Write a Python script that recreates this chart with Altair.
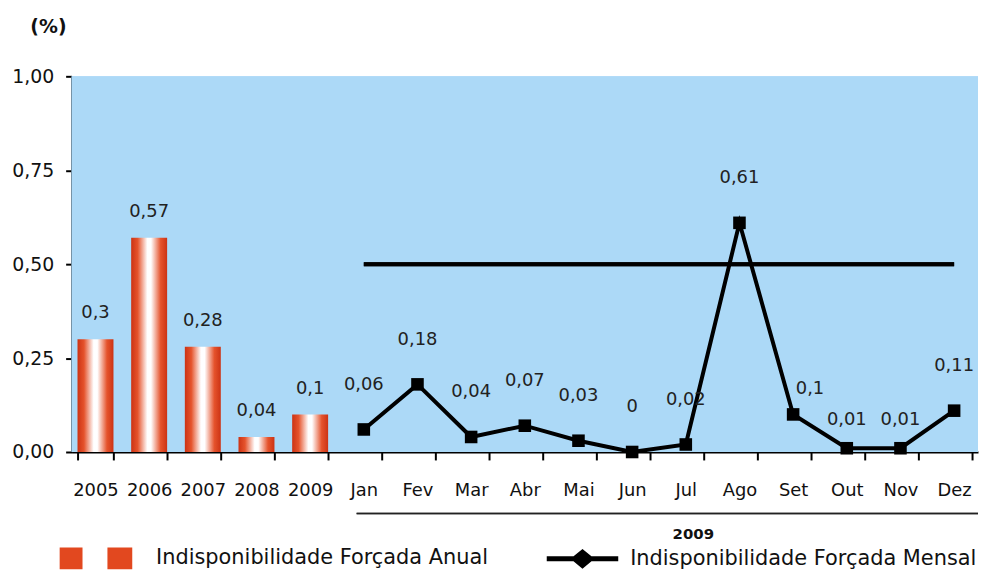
import altair as alt
import pandas as pd

# ---- data ----
anos = ["2005", "2006", "2007", "2008", "2009"]
anual = [0.3, 0.57, 0.28, 0.04, 0.1]
meses = ["Jan", "Fev", "Mar", "Abr", "Mai", "Jun", "Jul", "Ago", "Set", "Out", "Nov", "Dez"]
mensal = [0.06, 0.18, 0.04, 0.07, 0.03, 0, 0.02, 0.61, 0.1, 0.01, 0.01, 0.11]
meta = 0.5
y_ticks = [0, 0.25, 0.5, 0.75, 1.0]
series = ["Indisponibilidade Forçada Anual", "Indisponibilidade Forçada Mensal"]
grupo = "2009"
rotulos_baixos = ["Out", "Nov"]
rotulo_lado = ["Set"]

cats = anos + meses
df_bar = pd.DataFrame({"cat": anos, "v": anual})
df_line = pd.DataFrame({"cat": meses, "v": mensal})
df_leg = pd.DataFrame({"serie": series})

W, H = 912, 378
FONT = "DejaVu Sans"
RED = "#e2481f"
BG = "#acd9f7"

xscale = alt.Scale(domain=cats, paddingInner=0.33, paddingOuter=0.11)
yscale = alt.Scale(domain=[0, 1])

x_axis = alt.Axis(
    labelAngle=0, labelFontSize=18, labelFont=FONT, labelColor="#111",
    labelPadding=22, tickBand="extent", tickSize=8, tickColor="black",
    tickWidth=2, domainColor="black", domainWidth=2, grid=False,
    title=grupo, titleFont=FONT, titleFontSize=15, titleFontWeight="bold",
    titleX=625, titleY=82, titleBaseline="middle", titleAlign="center",
    titleColor="#111",
)
y_axis = alt.Axis(
    values=y_ticks, labelExpr="replace(format(datum.value, '.2f'), '.', ',')",
    labelFontSize=19, labelFont=FONT, labelColor="#111", labelPadding=12,
    tickSize=6, tickColor="black", tickWidth=2, domainColor="black",
    domainWidth=2, grid=False,
    title="(%)", titleAngle=0, titleX=-42, titleY=-50, titleAlign="left",
    titleBaseline="middle", titleFontSize=19, titleFontWeight="bold",
    titleFont=FONT, titleColor="#111",
)

X = alt.X("cat:N", scale=xscale, axis=x_axis, sort=cats)
Y = alt.Y("v:Q", scale=yscale, axis=y_axis)
Xn = alt.X("cat:N", scale=xscale, sort=cats)
Yn = alt.Y("v:Q", scale=yscale)

grad = alt.Gradient(
    gradient="linear", x1=0, x2=1, y1=0, y2=0,
    stops=[
        alt.GradientStop(offset=0, color="#cc3314"),
        alt.GradientStop(offset=0.18, color="#e5532c"),
        alt.GradientStop(offset=0.45, color="#ffffff"),
        alt.GradientStop(offset=0.55, color="#ffffff"),
        alt.GradientStop(offset=0.82, color="#e5532c"),
        alt.GradientStop(offset=1, color="#cc3314"),
    ],
)

lbl = "replace(toString(datum.v), '.', ',')"
TXT = dict(fontSize=18, font=FONT, color="#222")

# plot-area background panel
panel = alt.Chart(df_leg).mark_rect(fill=BG, stroke=None).encode(
    x=alt.value(0), x2=alt.value(W), y=alt.value(0), y2=alt.value(H)
)

bars = alt.Chart(df_bar).mark_bar(fill=grad).encode(x=X, y=Y)
bar_txt = alt.Chart(df_bar).transform_calculate(lbl=lbl).mark_text(
    dy=-26, **TXT
).encode(x=Xn, y=Yn, text="lbl:N")

target = alt.Chart(df_leg).mark_rule(color="black", strokeWidth=4).encode(
    x=alt.datum("Jan"), x2=alt.datum("Dez"), y=alt.datum(meta)
)

line = alt.Chart(df_line).mark_line(color="black", strokeWidth=4).encode(x=Xn, y=Yn)
pts = alt.Chart(df_line).mark_square(size=160, color="black", opacity=1).encode(x=Xn, y=Yn)

cond_low = alt.FieldOneOfPredicate(field="cat", oneOf=rotulos_baixos)
cond_side = alt.FieldOneOfPredicate(field="cat", oneOf=rotulo_lado)
line_txt = alt.Chart(df_line).transform_calculate(lbl=lbl).transform_filter(
    ~cond_low
).transform_filter(~cond_side).mark_text(dy=-45, **TXT).encode(x=Xn, y=Yn, text="lbl:N")
line_txt_low = alt.Chart(df_line).transform_calculate(lbl=lbl).transform_filter(
    cond_low
).mark_text(dy=-28, **TXT).encode(x=Xn, y=Yn, text="lbl:N")
line_txt_side = alt.Chart(df_line).transform_calculate(lbl=lbl).transform_filter(
    cond_side
).mark_text(dy=-26, dx=17, **TXT).encode(x=Xn, y=Yn, text="lbl:N")

underline = alt.Chart(df_leg).mark_rule(color="#222", strokeWidth=1.5).encode(
    x=alt.XDatum("Jan", bandPosition=0.3), x2=alt.value(W), y=alt.value(H + 62)
)

sym_anual = "M-3.32,-1H-1.23V1H-3.32Z M1.05,-1H3.32V1H1.05Z"
sym_mensal = "M-2.13,-0.23H4.41V0.23H-2.13Z M1.14,-0.9L2.24,0L1.14,0.9L0.04,0Z"
leg = alt.Legend(
    orient="none", legendX=13.5, legendY=474, direction="horizontal",
    symbolSize=484, labelOffset=49.5, columnPadding=58, labelFontSize=21,
    labelFont=FONT, labelLimit=0, labelColor="#111", symbolStrokeWidth=0,
    title=None, symbolOpacity=1,
)
legend_layer = alt.Chart(df_leg).mark_point(filled=True, opacity=0).encode(
    color=alt.Color("serie:N", scale=alt.Scale(domain=series, range=[RED, "black"]), legend=leg),
    shape=alt.Shape("serie:N", scale=alt.Scale(domain=series, range=[sym_anual, sym_mensal]), legend=leg),
)

chart = alt.layer(
    panel, bars, bar_txt, target, line, pts, line_txt, line_txt_low, line_txt_side,
    underline, legend_layer
).properties(
    width=W, height=H,
    padding={"left": 3, "top": 8, "right": 0, "bottom": 0},
).configure(background="white").configure_view(strokeWidth=0)

chart.save("out.html", embed_options={"renderer": "svg", "actions": False})
